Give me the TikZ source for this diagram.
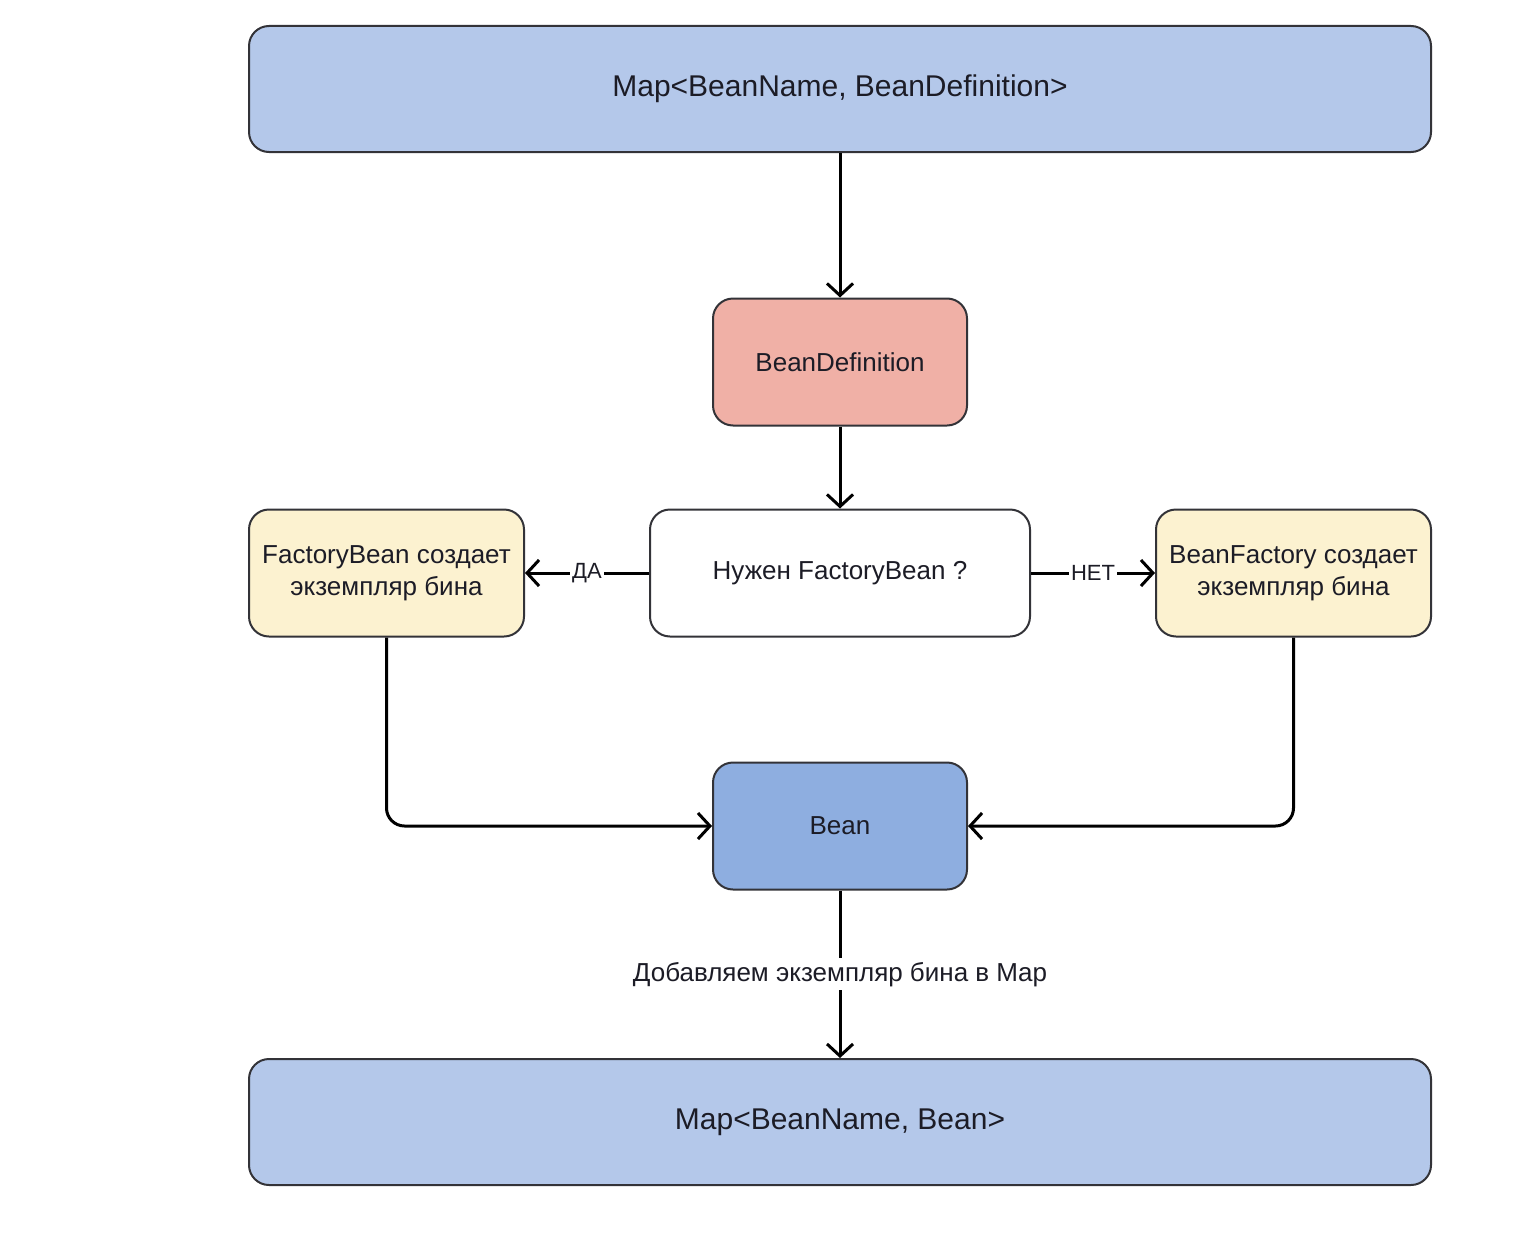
\documentclass[tikz,border=0pt]{standalone}
\usepackage{fontspec}
\setmainfont{Liberation Sans}
\usepackage{xcolor}
\usetikzlibrary{arrows.meta}
\definecolor{mapblue}{HTML}{B4C8EA}
\definecolor{defred}{HTML}{F0B0A6}
\definecolor{makeyellow}{HTML}{FCF2D0}
\definecolor{beanblue}{HTML}{8EAEE0}
\definecolor{edgegray}{HTML}{333338}
\definecolor{textdark}{HTML}{1C1C26}

\begin{document}
\begin{tikzpicture}[x=1pt,y=-1pt]
\tikzstyle{mapbox} = [rectangle, rounded corners=20pt, fill=mapblue, draw=edgegray, line width=2pt, inner sep=0pt, minimum width=1182pt, minimum height=126pt, text=textdark, font=\fontsize{30}{36}\selectfont]
\tikzstyle{definition} = [rectangle, rounded corners=20pt, fill=defred, draw=edgegray, line width=2pt, inner sep=0pt, minimum width=254pt, minimum height=127pt, text=textdark, font=\fontsize{26}{32}\selectfont]
\tikzstyle{question} = [rectangle, rounded corners=20pt, fill=white, draw=edgegray, line width=2pt, inner sep=0pt, minimum width=380pt, minimum height=127pt, text=textdark, font=\fontsize{26}{32}\selectfont]
\tikzstyle{creator} = [rectangle, rounded corners=20pt, fill=makeyellow, draw=edgegray, line width=2pt, inner sep=0pt, minimum width=275pt, minimum height=127pt, align=center, text=textdark, font=\fontsize{26}{32}\selectfont]
\tikzstyle{bean} = [rectangle, rounded corners=20pt, fill=beanblue, draw=edgegray, line width=2pt, inner sep=0pt, minimum width=254pt, minimum height=127pt, text=textdark, font=\fontsize{26}{32}\selectfont]
\tikzstyle{flowarrow} = [draw=black, line width=3pt, -{Straight Barb[length=12pt,width=26pt,line width=3pt]}]
\tikzstyle{edgelabel} = [fill=white, inner sep=2pt, text=textdark, font=\fontsize{22}{26}\selectfont]
\tikzstyle{addlabel} = [fill=white, inner sep=4pt, text=textdark, font=\fontsize{26}{30}\selectfont]

\useasboundingbox (0,0) rectangle (1530,1236);

\node(mapDefs) [mapbox] at (840,89) {Map<BeanName, BeanDefinition>};
\node(beanDef) [definition] at (840,362) {BeanDefinition};
\node(needFactory) [question] at (840,573) {Нужен FactoryBean ?};
\node(factoryBean) [creator] at (386.5,573) {FactoryBean создает\\экземпляр бина};
\node(beanFactory) [creator] at (1293.5,573) {BeanFactory создает\\экземпляр бина};
\node(bean) [bean] at (840,826) {Bean};
\node(mapBeans) [mapbox] at (840,1122) {Map<BeanName, Bean>};

\draw[flowarrow] (mapDefs) -- (beanDef);
\draw[flowarrow] (beanDef) -- (needFactory);
\draw[flowarrow] (needFactory) -- node[edgelabel] {ДА} (factoryBean);
\draw[flowarrow] (needFactory) -- node[edgelabel] {НЕТ} (beanFactory);
\draw[flowarrow, rounded corners=18pt] (factoryBean.south) |- (bean.west);
\draw[flowarrow, rounded corners=18pt] (beanFactory.south) |- (bean.east);
\draw[flowarrow] (bean) -- node[addlabel] {Добавляем экземпляр бина в Map} (mapBeans);
\end{tikzpicture}
\end{document}
